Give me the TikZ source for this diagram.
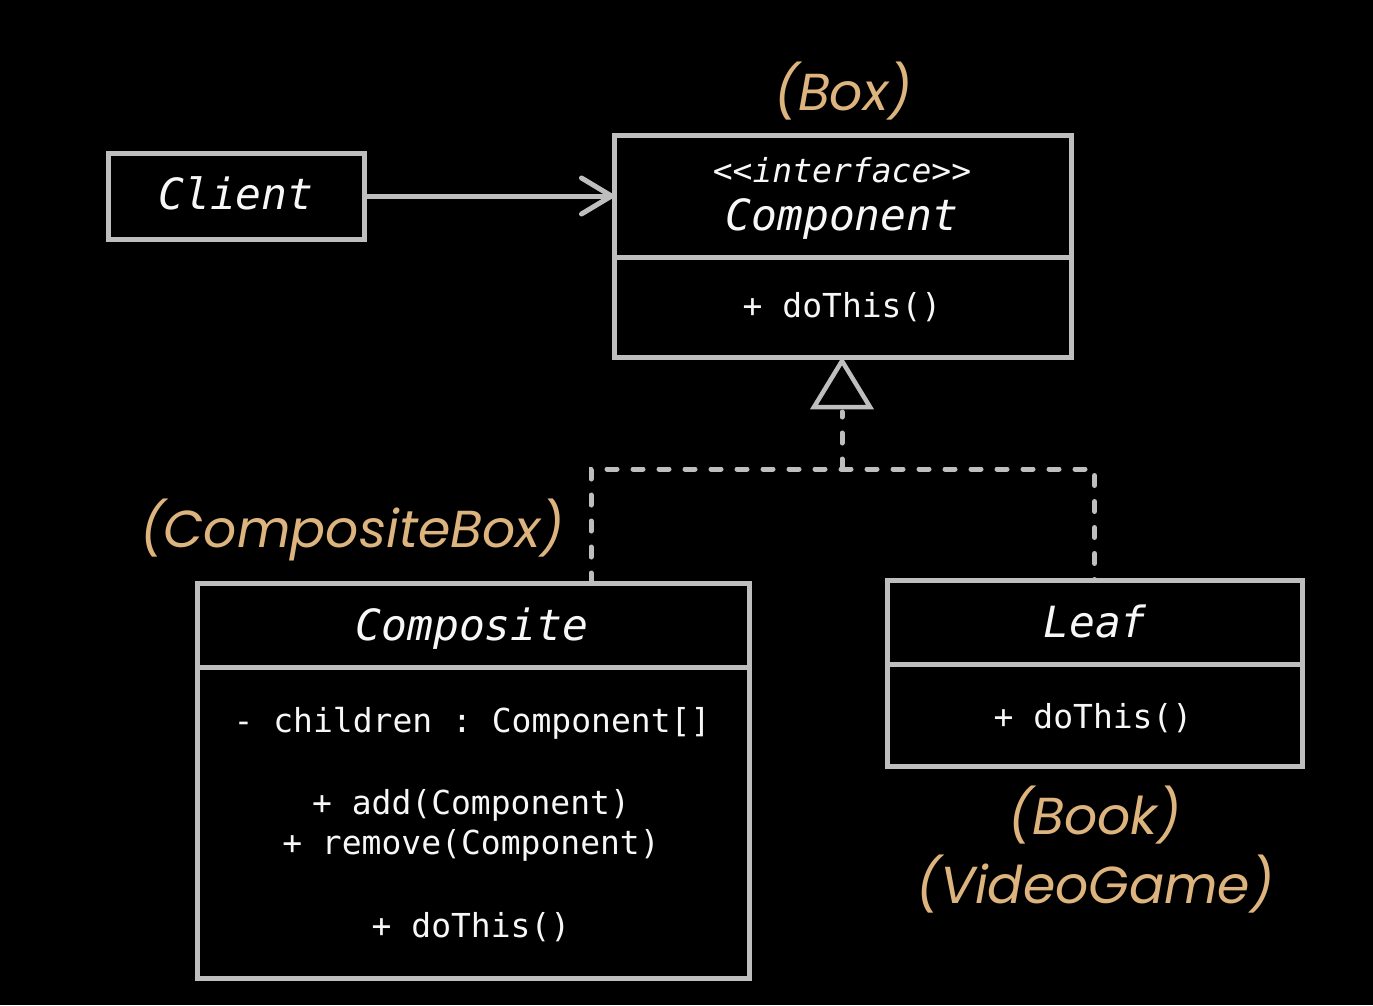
\documentclass[tikz,border=0pt]{standalone}
\usepackage{fontspec}
\setmonofont{DejaVu Sans Mono}
\newfontfamily\lblfont{Poppins}
\usetikzlibrary{arrows.meta}
\definecolor{edgegray}{HTML}{BEBEBE}
\definecolor{lblorange}{HTML}{DDB47E}
\definecolor{txtwhite}{HTML}{F7F7F7}
\tikzset{
  umlbox/.style={draw=edgegray, line width=5pt, fill=black, rectangle, inner sep=0pt, outer sep=0pt},
  divider/.style={draw=edgegray, line width=5pt},
  headtext/.style={text=txtwhite, font=\ttfamily\itshape\fontsize{43}{50}\selectfont, inner sep=0pt, anchor=base},
  stereotext/.style={text=txtwhite, font=\ttfamily\itshape\fontsize{33}{40}\selectfont, inner sep=0pt, anchor=base},
  bodytext/.style={text=txtwhite, font=\ttfamily\fontsize{33}{40}\selectfont, inner sep=0pt, anchor=base},
  alias/.style={text=lblorange, font=\lblfont\itshape\fontsize{52}{60}\selectfont, inner sep=0pt, anchor=base},
  dashline/.style={draw=edgegray, line width=5pt, line cap=round, dash pattern=on 10pt off 16pt},
  assoc/.style={draw=edgegray, line width=5pt, -{Straight Barb[length=30pt,width=36pt,round]}},
}
\begin{document}
\begin{tikzpicture}[x=1pt,y=-1pt]
\fill[black] (0,0) rectangle (1373,1005);
\useasboundingbox (0,0) rectangle (1373,1005);

% boxes
\node[umlbox, minimum width=256pt, minimum height=86pt] (client) at (236,196) {};
\node[umlbox, minimum width=457pt, minimum height=222pt] (component) at (842.5,246) {};
\node[umlbox, minimum width=552pt, minimum height=395pt] (composite) at (473,780.5) {};
\node[umlbox, minimum width=415pt, minimum height=186pt] (leaf) at (1094.5,673) {};

% dividers
\draw[divider] (component.west |- 0,257) -- (component.east |- 0,257);
\draw[divider] (composite.west |- 0,667) -- (composite.east |- 0,667);
\draw[divider] (leaf.west |- 0,664) -- (leaf.east |- 0,664);

% texts
\node[headtext] (tclient) at (236,209) {Client};
\node[stereotext] (tstereo) at (842,182) {<<interface>>};
\node[headtext] (tcomponent) at (842,230) {Component};
\node[bodytext] (tcompop) at (842,317) {+ doThis()};
\node[headtext] (tcomposite) at (472,640) {Composite};
\node[bodytext] (tchildren) at (472,732) {- children : Component[]};
\node[bodytext] (tadd) at (471,814) {+ add(Component)};
\node[bodytext] (tremove) at (471,854) {+ remove(Component)};
\node[bodytext] (tcdo) at (471,937) {+ doThis()};
\node[headtext] (tleaf) at (1095,637) {Leaf};
\node[bodytext] (tleafop) at (1093,728) {+ doThis()};

% alias labels
\node[alias] (abox) at (843,110) {(Box)};
\node[alias] (acompbox) at (352,547) {(CompositeBox)};
\node[alias] (abook) at (1095,834) {(Book)};
\node[alias] (avideo) at (1095,903) {(VideoGame)};

% association
\draw[assoc] (client.east) -- (component.west |- client.east);

% realization
\coordinate (jc) at (842,469);
\coordinate (jl) at (591,469);
\coordinate (jr) at (1094.5,469);
\draw[dashline] (composite.north -| jl) -- (jl) -- (jr) -- (leaf.north);
\draw[dashline] (jc) -- (842,412);
\draw[draw=edgegray, line width=4.5pt, line join=miter, fill=black]
  (component.south -| jc) ++(0,4) -- (870,407) -- (814,407) -- cycle;
\end{tikzpicture}
\end{document}
